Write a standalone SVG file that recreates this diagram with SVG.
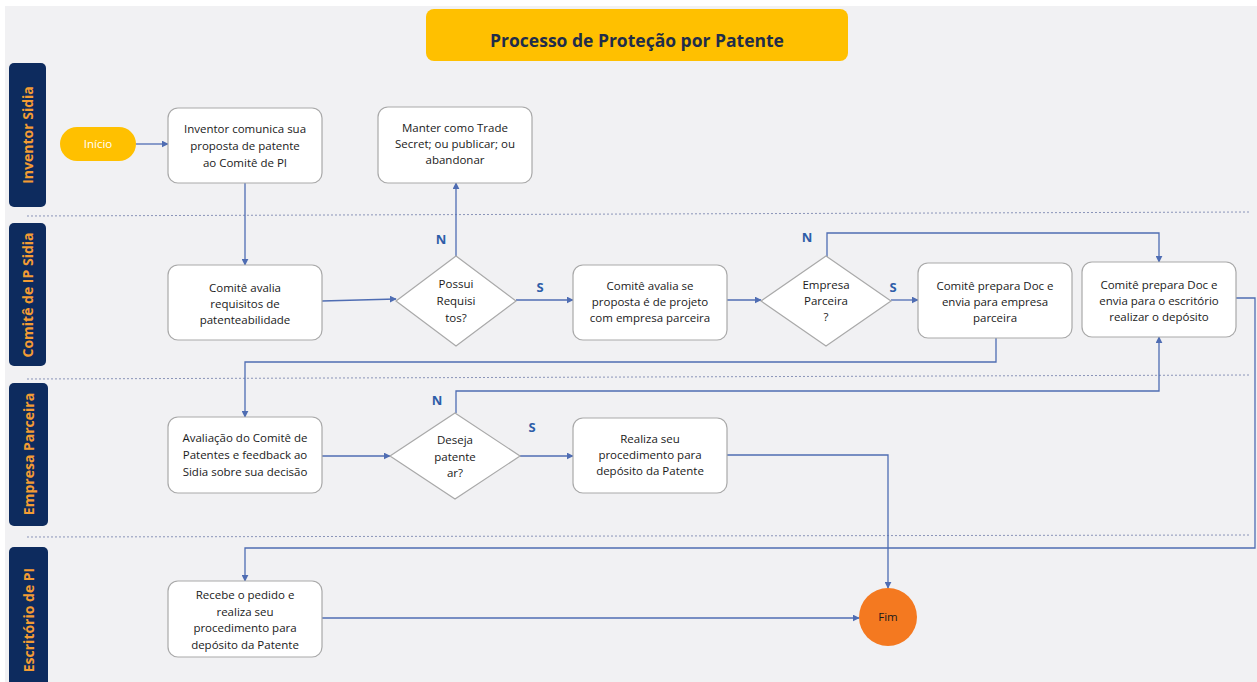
<svg xmlns="http://www.w3.org/2000/svg" width="1257" height="682" viewBox="0 0 1257 682">
<defs>
<marker id="ah" viewBox="0 0 10 10" refX="9" refY="5" markerWidth="7" markerHeight="7" markerUnits="userSpaceOnUse" orient="auto">
<path d="M0,0 L10,5 L0,10 z" fill="#4F6DB3"/>
</marker>
<style>
.lane{fill:#0D2B5E}
.lanet{fill:#F39C34;font-family:"Open Sans","Liberation Sans",sans-serif;font-weight:bold;font-size:14px;text-anchor:middle}
.sep{stroke:#8A94B8;stroke-width:1;stroke-dasharray:2,2;fill:none}
.box{fill:#FFFFFF;stroke:#A9A9A9;stroke-width:1.2}
.t{font-family:"Open Sans","Liberation Sans",sans-serif;font-size:11.5px;fill:#1a1a1a;text-anchor:middle}
.c{stroke:#4F6DB3;stroke-width:1.3;fill:none;marker-end:url(#ah)}
.yn{font-family:"Open Sans","Liberation Sans",sans-serif;font-weight:bold;font-size:13px;fill:#2E5DA8;text-anchor:middle}
</style>
</defs>
<rect x="0" y="0" width="1257" height="682" fill="#FFFFFF"/>
<rect x="5" y="6" width="1252" height="676" fill="#F1F1F3"/>

<g id="title">
<rect x="426" y="9" width="422" height="52" rx="8" fill="#FFC000"/>
<text x="637" y="47" font-family="'Open Sans','Liberation Sans',sans-serif" font-weight="bold" font-size="17.5" fill="#1F2D4A" text-anchor="middle">Processo de Proteção por Patente</text>
</g>

<g id="lanes">
<rect class="lane" x="9" y="63" width="37" height="144" rx="5"/>
<text class="lanet" transform="translate(33,135) rotate(-90)">Inventor Sidia</text>
<rect class="lane" x="9" y="223" width="37" height="143" rx="5"/>
<text class="lanet" transform="translate(33,295) rotate(-90)">Comitê de IP Sidia</text>
<rect class="lane" x="9" y="383" width="39" height="143" rx="5"/>
<text class="lanet" transform="translate(34,454) rotate(-90)">Empresa  Parceira</text>
<rect class="lane" x="9" y="547" width="39" height="140" rx="5"/>
<text class="lanet" transform="translate(34,620) rotate(-90)">Escritório de PI</text>
<line class="sep" x1="27" y1="216" x2="1250" y2="212"/>
<line class="sep" x1="27" y1="379" x2="1250" y2="375"/>
<line class="sep" x1="27" y1="537" x2="1250" y2="535"/>
</g>

<g id="connectors">
<line class="c" x1="136" y1="144" x2="168" y2="144"/>
<line class="c" x1="245" y1="183" x2="245" y2="265"/>
<line class="c" x1="322" y1="301" x2="396" y2="299"/>
<line class="c" x1="456" y1="256" x2="456" y2="183"/>
<line class="c" x1="516" y1="300" x2="573" y2="300"/>
<line class="c" x1="727" y1="300" x2="761" y2="300"/>
<line class="c" x1="891" y1="300" x2="918" y2="300"/>
<polyline class="c" points="827,257 827,233 1159,233 1159,262"/>
<polyline class="c" points="996,338 996,362 245,362 245,417"/>
<line class="c" x1="322" y1="456" x2="390" y2="456"/>
<polyline class="c" points="456,413 456,391 1159,391 1159,337"/>
<line class="c" x1="520" y1="456" x2="573" y2="456"/>
<polyline class="c" points="727,455 888,455 888,588"/>
<line class="c" x1="322" y1="618" x2="859" y2="618"/>
<polyline class="c" points="1236,298 1255,298 1255,548 245,548 245,581"/>
<text class="yn" x="441" y="244">N</text>
<text class="yn" x="540" y="292">S</text>
<text class="yn" x="807" y="242">N</text>
<text class="yn" x="893" y="292">S</text>
<text class="yn" x="437" y="405">N</text>
<text class="yn" x="532" y="432">S</text>
</g>

<g id="inicio">
<rect x="60" y="127" width="76" height="34" rx="17" fill="#FFC000"/>
<text class="t" x="98" y="148" style="fill:#FFFFFF">Início</text>
</g>

<g id="inventor-comunica">
<rect class="box" x="168" y="108" width="154" height="75" rx="10"/>
<text class="t" x="245" y="133">Inventor comunica sua</text>
<text class="t" x="245" y="150">proposta de patente</text>
<text class="t" x="245" y="167">ao Comitê de PI</text>
</g>

<g id="manter">
<rect class="box" x="378" y="107" width="154" height="76" rx="10"/>
<text class="t" x="455" y="132">Manter como Trade</text>
<text class="t" x="455" y="148">Secret; ou publicar; ou</text>
<text class="t" x="455" y="164">abandonar</text>
</g>

<g id="comite-avalia">
<rect class="box" x="168" y="265" width="154" height="75" rx="10"/>
<text class="t" x="245" y="292">Comitê avalia</text>
<text class="t" x="245" y="308">requisitos de</text>
<text class="t" x="245" y="324">patenteabilidade</text>
</g>

<g id="possui">
<polygon class="box" points="456,256 516,301 456,346 396,301"/>
<text class="t" x="456" y="288">Possui</text>
<text class="t" x="456" y="305">Requisi</text>
<text class="t" x="456" y="322">tos?</text>
</g>

<g id="comite-avalia-se">
<rect class="box" x="573" y="265" width="154" height="75" rx="10"/>
<text class="t" x="650" y="290">Comitê avalia se</text>
<text class="t" x="650" y="306">proposta é de projeto</text>
<text class="t" x="650" y="322">com empresa parceira</text>
</g>

<g id="empresa-parceira">
<polygon class="box" points="826,256 891,301 826,346 761,301"/>
<text class="t" x="826" y="289">Empresa</text>
<text class="t" x="826" y="305">Parceira</text>
<text class="t" x="826" y="321">?</text>
</g>

<g id="prepara-empresa">
<rect class="box" x="918" y="263" width="154" height="75" rx="10"/>
<text class="t" x="995" y="290">Comitê prepara Doc e</text>
<text class="t" x="995" y="306">envia para empresa</text>
<text class="t" x="995" y="322">parceira</text>
</g>

<g id="prepara-escritorio">
<rect class="box" x="1082" y="262" width="154" height="75" rx="10"/>
<text class="t" x="1159" y="289">Comitê prepara Doc e</text>
<text class="t" x="1159" y="305">envia para o escritório</text>
<text class="t" x="1159" y="321">realizar o depósito</text>
</g>

<g id="avaliacao">
<rect class="box" x="168" y="417" width="154" height="76" rx="10"/>
<text class="t" x="245" y="442">Avaliação do Comitê de</text>
<text class="t" x="245" y="459">Patentes e feedback ao</text>
<text class="t" x="245" y="476">Sidia sobre sua decisão</text>
</g>

<g id="deseja">
<polygon class="box" points="455,413 520,456 455,499 390,456"/>
<text class="t" x="455" y="444">Deseja</text>
<text class="t" x="455" y="461">patente</text>
<text class="t" x="455" y="477">ar?</text>
</g>

<g id="realiza">
<rect class="box" x="573" y="418" width="154" height="75" rx="10"/>
<text class="t" x="650" y="443">Realiza seu</text>
<text class="t" x="650" y="459">procedimento para</text>
<text class="t" x="650" y="475">depósito da Patente</text>
</g>

<g id="recebe">
<rect class="box" x="168" y="581" width="154" height="76" rx="10"/>
<text class="t" x="245" y="599">Recebe o pedido e</text>
<text class="t" x="245" y="616">realiza seu</text>
<text class="t" x="245" y="632">procedimento para</text>
<text class="t" x="245" y="649">depósito da Patente</text>
</g>

<g id="fim">
<circle cx="888" cy="617" r="29" fill="#F47920"/>
<text class="t" x="888" y="621">Fim</text>
</g>
</svg>
